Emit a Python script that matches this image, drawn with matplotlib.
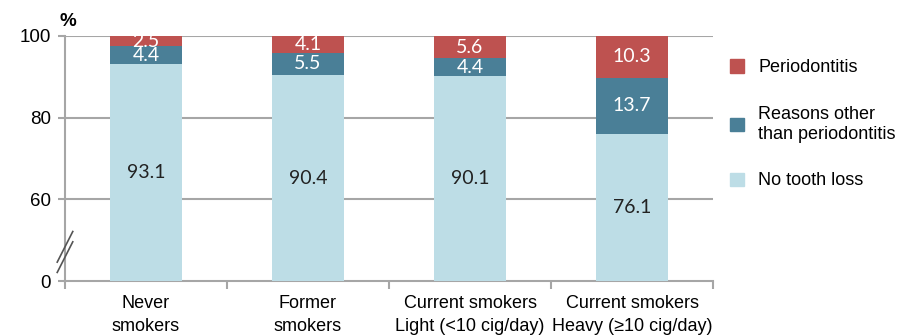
import numpy as np
import matplotlib
matplotlib.use("Agg")
import matplotlib.pyplot as plt
from matplotlib.patches import Patch

categories = ["Never\nsmokers", "Former\nsmokers", "Current smokers\nLight (<10 cig/day)",
              "Current smokers\nHeavy (\u226510 cig/day)"]
no_loss = np.array([93.1, 90.4, 90.1, 76.1])
other = np.array([4.4, 5.5, 4.4, 13.7])
perio = np.array([2.5, 4.1, 5.6, 10.3])
series_names = ["Periodontitis", "Reasons other\nthan periodontitis", "No tooth loss"]
yticks = [0, 60, 80, 100]

c_light = "#BDDDE6"
c_teal = "#4A7F97"
c_red = "#BE5250"
grey = "#A6A6A6"

def fwd(y):
    y = np.asarray(y, dtype=float)
    return np.where(y <= 60, 40 + y / 3.0, y)

def inv(v):
    v = np.asarray(v, dtype=float)
    return np.where(v <= 60, (v - 40) * 3.0, v)

plt.rcParams['font.family'] = ['Liberation Sans', 'DejaVu Sans']

fig = plt.figure(figsize=(9.09, 3.35), dpi=100)
ax = fig.add_axes([65/909, 1-281/335, 648/909, 245/335])
ax.set_yscale('function', functions=(fwd, inv))

x = np.arange(len(categories))
w = 0.445
ax.bar(x, no_loss, w, color=c_light, zorder=3)
ax.bar(x, other, w, bottom=no_loss, color=c_teal, zorder=3)
ax.bar(x, perio, w, bottom=no_loss + other, color=c_red, zorder=3)

def mid(b, t):
    return float(inv((fwd(b) + fwd(t)) / 2))

lab_font = ['Lato', 'DejaVu Sans']
for i in range(len(x)):
    ax.text(x[i], mid(0, no_loss[i]), f"{no_loss[i]:.1f}", ha='center', va='center',
            fontsize=14, color='#222222', family=lab_font, zorder=4)
    ax.text(x[i], mid(no_loss[i], no_loss[i] + other[i]), f"{other[i]:.1f}", ha='center',
            va='center', fontsize=14, color='white', family=lab_font, zorder=4)
    ax.text(x[i], mid(no_loss[i] + other[i], 100), f"{perio[i]:.1f}", ha='center',
            va='center', fontsize=14, color='white', family=lab_font, zorder=4)

ax.set_xlim(-0.5, len(categories) - 0.5)
ax.set_ylim(0, 100)
ax.set_yticks(yticks)
ax.set_yticklabels([str(t) for t in yticks])
for t in [60, 80, 100]:
    ax.axhline(t, color=grey, lw=1.5, zorder=1)

for s in ['top', 'right']:
    ax.spines[s].set_visible(False)
for s in ['left', 'bottom']:
    ax.spines[s].set_color(grey)
    ax.spines[s].set_linewidth(1.5)

ax.tick_params(axis='y', length=5, width=1.5, color=grey, labelsize=13.5, pad=5)
ax.set_xticks(np.arange(len(categories) + 1) - 0.5, minor=False)
ax.set_xticklabels([])
ax.tick_params(axis='x', which='major', length=6, width=1.5, color=grey)
ax.set_xticks(x, minor=True)
ax.set_xticklabels(categories, minor=True, fontsize=13, linespacing=1.45)
ax.tick_params(axis='x', which='minor', length=0, pad=10)

ax.text(0.004, 1.025, "%", transform=ax.transAxes, fontsize=13.5, fontweight='bold',
        ha='center', va='bottom')

# axis break marks
for dy in [0.0, 0.042]:
    ax.plot([-0.012, 0.012], [0.035 + dy, 0.16 + dy], transform=ax.transAxes,
            color='#555555', lw=1.2, clip_on=False, zorder=5)

handles = [Patch(color=c_red), Patch(color=c_teal), Patch(color=c_light)]
fig.legend(handles, series_names, loc='upper left', bbox_to_anchor=(714/909, 1-43/335),
           frameon=False, fontsize=13, handlelength=0.75, handleheight=0.75,
           handletextpad=0.8, labelspacing=1.65)

fig.savefig("out.png", dpi=100)
